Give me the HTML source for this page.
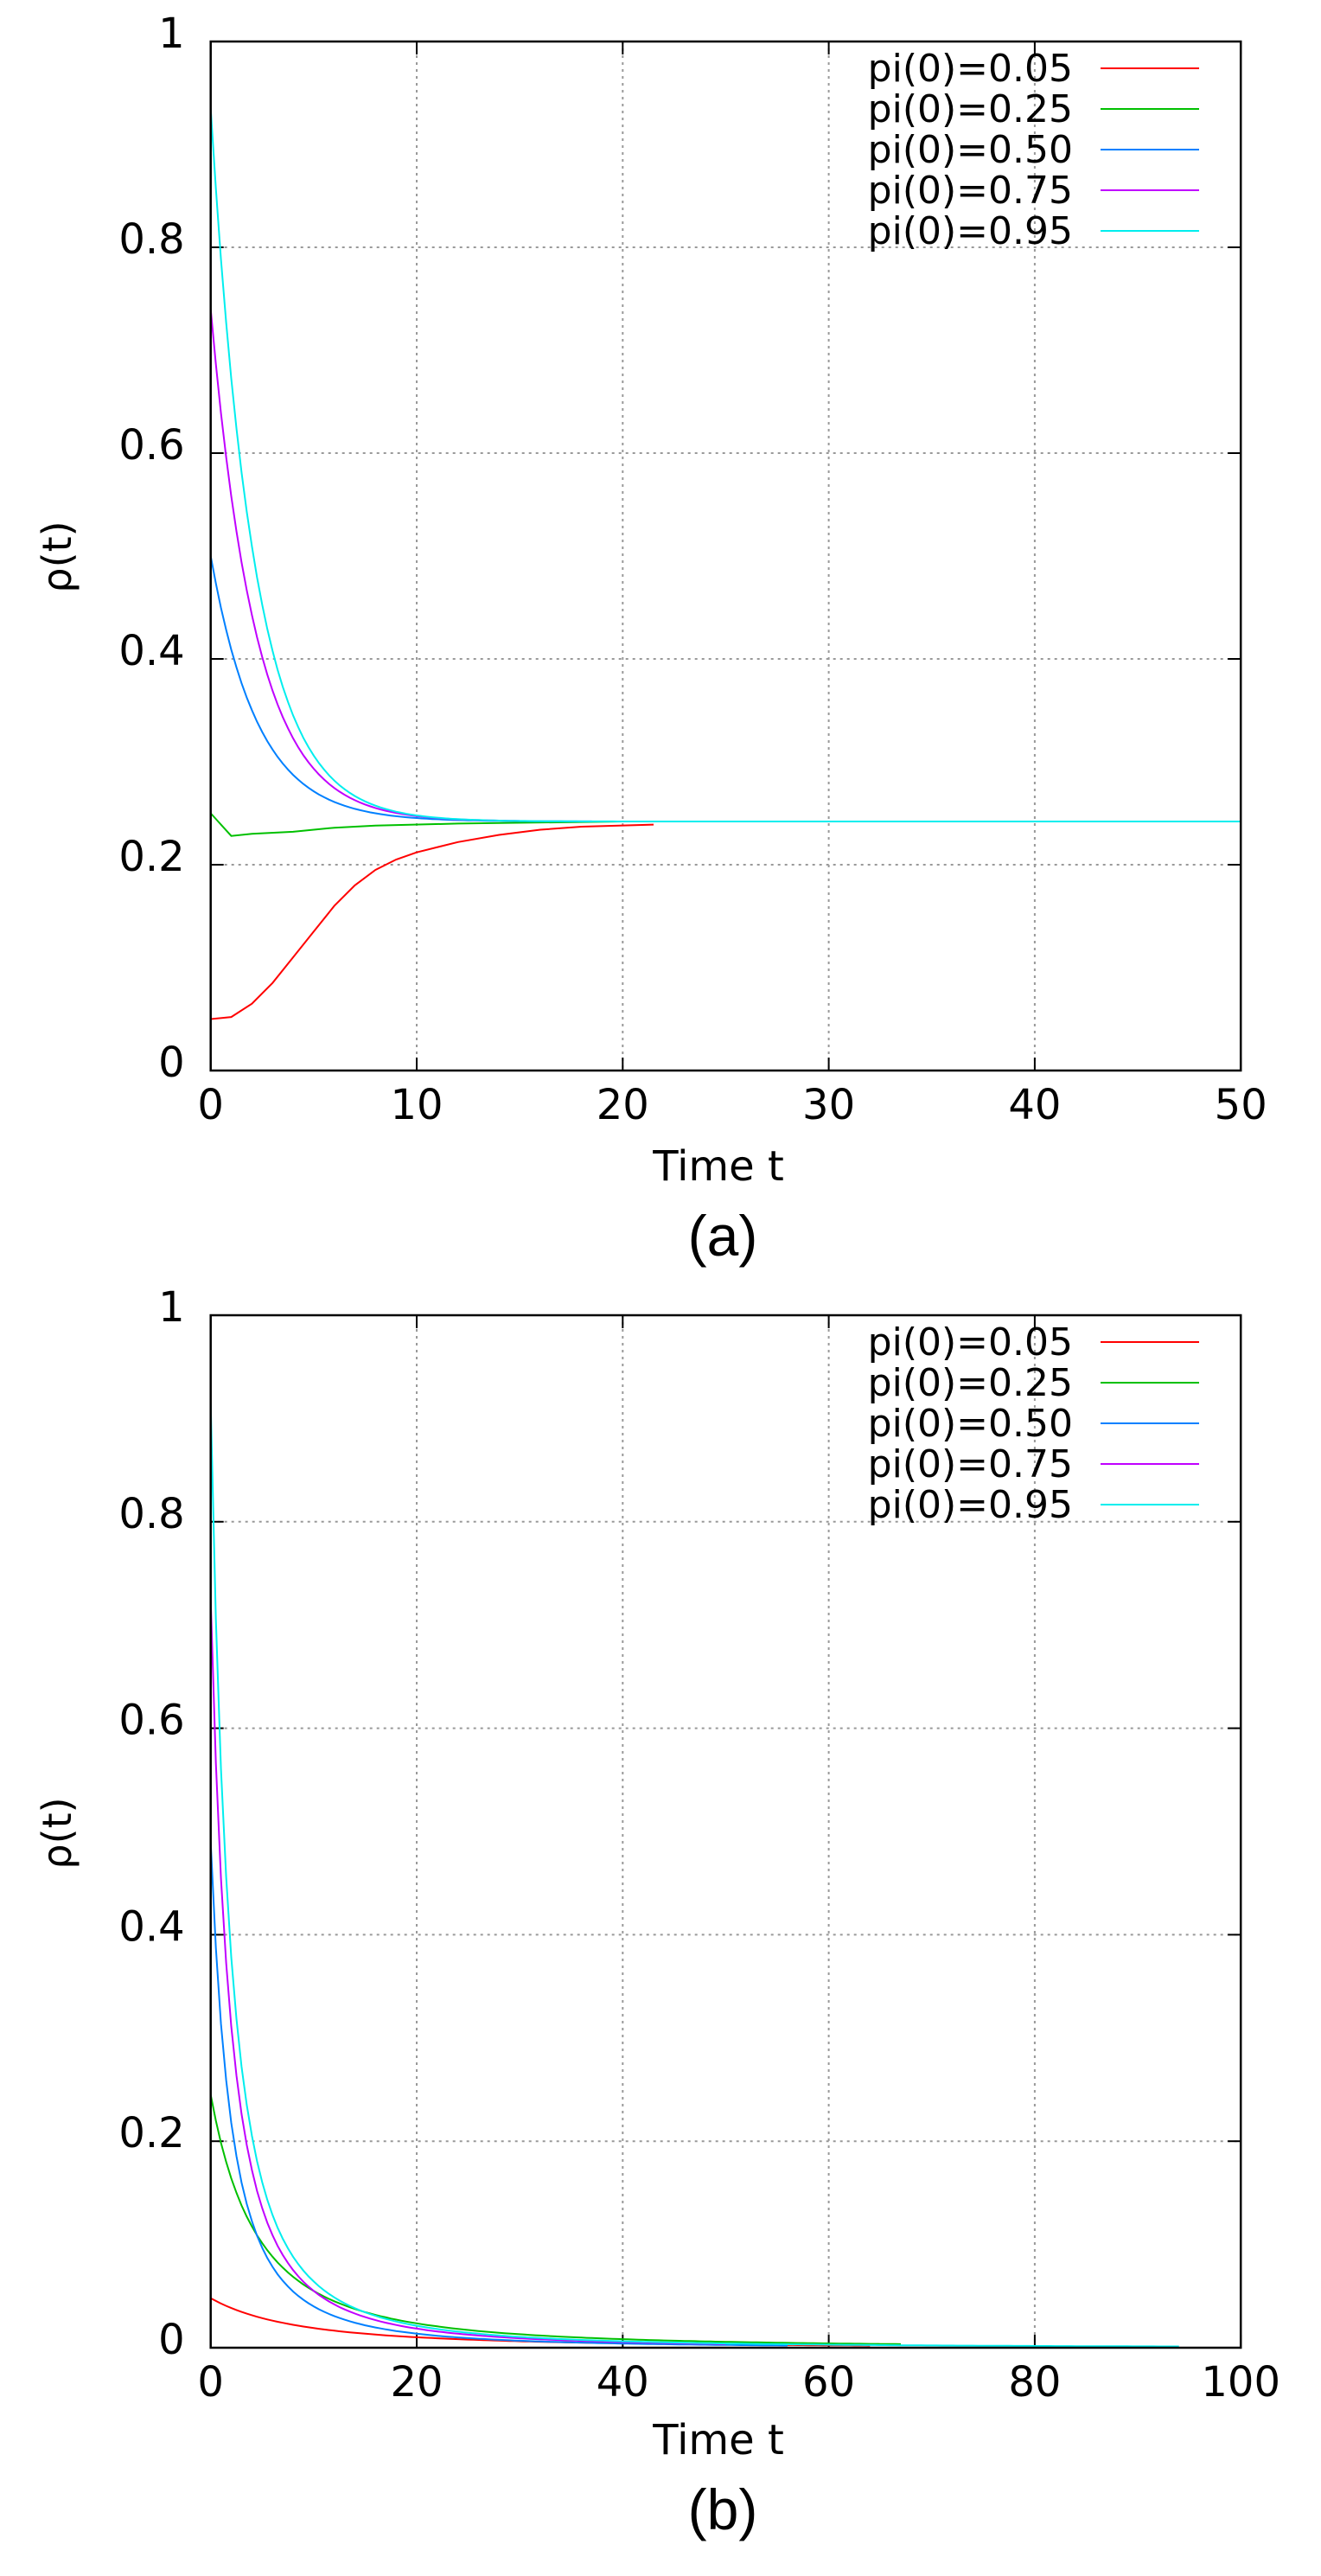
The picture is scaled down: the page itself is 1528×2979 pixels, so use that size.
<!DOCTYPE html>
<html><head><meta charset="utf-8"><style>
html,body{margin:0;padding:0;background:#fff}
svg{display:block}
text{font-family:"DejaVu Sans","Liberation Sans",sans-serif;fill:#000}
</style></head><body>
<svg id="s" width="1528" height="2979" viewBox="0 0 1528 2979" xmlns="http://www.w3.org/2000/svg">
<g id="ga"></g><g id="gb"></g>
<text x="831" y="1365" font-size="48" text-anchor="middle">Time t</text>
<text x="836" y="1452" font-size="66" text-anchor="middle" style="font-family:'Liberation Sans',sans-serif">(a)</text>
<text x="831" y="2838" font-size="48" text-anchor="middle">Time t</text>
<text x="836" y="2925" font-size="66" text-anchor="middle" style="font-family:'Liberation Sans',sans-serif">(b)</text>
<text transform="translate(82,644) rotate(-90)" font-size="46" text-anchor="middle">ρ(t)</text>
<text transform="translate(82,2120) rotate(-90)" font-size="46" text-anchor="middle">ρ(t)</text>
</svg>
<script>
var NS="http://www.w3.org/2000/svg";
function el(p,n,a,t){var e=document.createElementNS(NS,n);for(var k in a)e.setAttribute(k,a[k]);if(t!==undefined)e.textContent=t;p.appendChild(e);return e;}
var cols=["#ff0000","#00c000","#0080ff","#c000ff","#00eeee"];
var labs=["pi(0)=0.05","pi(0)=0.25","pi(0)=0.50","pi(0)=0.75","pi(0)=0.95"];
function plot(g,Y0,YH,XMAX,xt,series){
 var X0=243.7,XW=1191.5;
 function px(t){return X0+t/XMAX*XW}
 function py(v){return Y0-v*YH}
 for(var i=1;i<5;i++){var y=py(i*0.2);el(g,"line",{x1:X0,x2:X0+XW,y1:y,y2:y,stroke:"#999","stroke-width":2,"stroke-dasharray":"3,5"});}
 for(var i=1;i<5;i++){var x=X0+i*XW/5;el(g,"line",{x1:x,x2:x,y1:py(1),y2:Y0,stroke:"#999","stroke-width":2,"stroke-dasharray":"3,5"});}
 for(var i=0;i<=5;i++){var y=py(i*0.2);el(g,"line",{x1:X0,x2:X0+15,y1:y,y2:y,stroke:"#000","stroke-width":2});el(g,"line",{x1:X0+XW-15,x2:X0+XW,y1:y,y2:y,stroke:"#000","stroke-width":2});
  el(g,"text",{x:X0-30,y:y+7,"font-size":48,"text-anchor":"end"},i==0?"0":i==5?"1":(i*0.2).toFixed(1));}
 for(var i=0;i<=5;i++){var x=X0+i*XW/5;el(g,"line",{x1:x,x2:x,y1:Y0-15,y2:Y0,stroke:"#000","stroke-width":2});el(g,"line",{x1:x,x2:x,y1:py(1),y2:py(1)+15,stroke:"#000","stroke-width":2});
  el(g,"text",{x:x,y:Y0+56,"font-size":48,"text-anchor":"middle"},String(i*xt));}
 for(var s=0;s<5;s++){var pts=series[s],d="";for(var j=0;j<pts.length;j++)d+=(j?"L":"M")+px(pts[j][0]).toFixed(1)+","+py(pts[j][1]).toFixed(1);
  el(g,"path",{d:d,fill:"none",stroke:cols[s],"stroke-width":2});}
 for(var s=0;s<5;s++){var y=py(1)+31+s*47;el(g,"text",{x:1241,y:y+15,"font-size":44,"text-anchor":"end"},labs[s]);
  el(g,"line",{x1:1273,x2:1387,y1:y,y2:y,stroke:cols[s],"stroke-width":2});}
 el(g,"rect",{x:X0,y:py(1),width:XW,height:YH,fill:"none",stroke:"#000","stroke-width":2.5});
}
function expo(v0,tau,tend,eq){var a=[];for(var t=0;t<=tend;t+=0.25)a.push([t,eq+(v0-eq)*Math.exp(-t/tau)]);a.push([tend,eq+(v0-eq)*Math.exp(-tend/tau)]);return a;}
var eq=0.242;
var A=[
 [[0,.05],[1,.052],[2,.065],[3,.085],[4,.11],[5,.135],[6,.16],[7,.18],[8,.195],[9,.205],[10,.212],[12,.222],[14,.229],[16,.234],[18,.237],[21.5,.239]],
 [[0,.25],[1,.228],[2,.23],[4,.232],[6,.236],[8,.238],[12,.24],[20,.242],[21,.242]],
 expo(.5,2.3,18.5,eq),
 expo(.74,2.2,15,eq),
 expo(.935,2.1,50,eq)
];
function pw(v0,a,p,tend){var r=[];for(var t=0;t<=tend;t+=0.5)r.push([t,v0/Math.pow(1+t/a,p)]);return r;}
var B=[pw(.048,17,2,64),pw(.245,9,2,67),pw(.49,4.0,2,56),pw(.725,3.8,2,50),pw(.915,3.6,2,94)];
plot(document.getElementById("ga"),1238,1190,50,10,A);
plot(document.getElementById("gb"),2715,1194,100,20,B);
</script>
</body></html>
